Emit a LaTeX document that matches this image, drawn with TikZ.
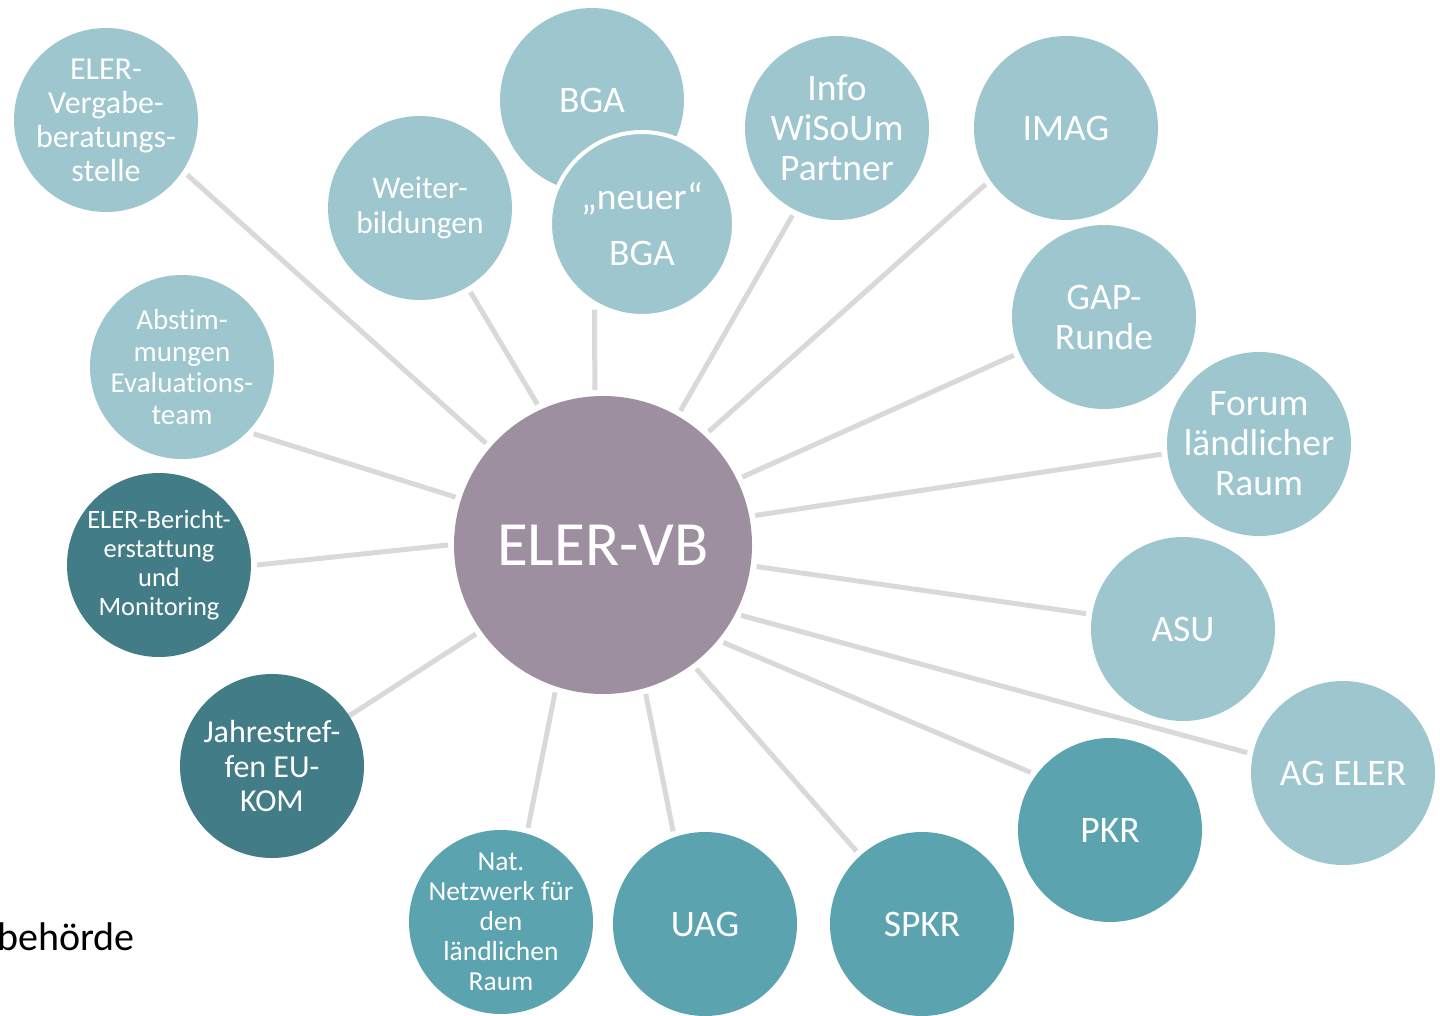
\documentclass[tikz,border=0pt]{standalone}
\usepackage{fontspec}
\setmainfont{Carlito}[Ligatures=NoCommon]
\usetikzlibrary{backgrounds}
\definecolor{lightteal}{HTML}{9DC6CE}
\definecolor{midteal}{HTML}{5BA3AF}
\definecolor{darkteal}{HTML}{427C86}
\definecolor{centermauve}{HTML}{9E8FA0}
\definecolor{linegrey}{HTML}{D9D9D9}
\tikzset{
  bub/.style={circle, minimum size=184pt, inner sep=-30pt, outer sep=6pt, text=white, align=center},
  lightbub/.style={bub, fill=lightteal},
  midbub/.style={bub, fill=midteal},
  darkbub/.style={bub, fill=darkteal},
  spoke/.style={draw=linegrey, line width=5pt},
  fbig/.style={font=\fontsize{37.5}{40}\selectfont}
}
\begin{document}
\begin{tikzpicture}[x=1pt,y=-1pt]
\useasboundingbox (0,0) rectangle (1440,1016);

\node[circle, minimum size=298pt, inner sep=0pt, outer sep=6pt, fill=centermauve, text=white,
      font=\fontsize{63}{70}\selectfont] (c) at (603,545) {ELER-VB};

\node[lightbub, font=\fontsize{32}{34}\selectfont] (verg) at (106,120) {ELER-\\Vergabe-\\beratungs-\\stelle};
\node[lightbub, fbig] (bga) at (592,100) {BGA};
\node[lightbub, fbig, draw=white, line width=4pt] (nbga) at (642,224) {„neuer“\\[16pt]BGA};
\node[lightbub, font=\fontsize{31.5}{35}\selectfont] (weit) at (420,208) {Weiter-\\bildungen};
\node[lightbub, fbig] (info) at (837,128) {Info\\WiSoUm\\Partner};
\node[lightbub, fbig] (imag) at (1066,128) {IMAG};
\node[lightbub, fbig] (gap) at (1104,317) {GAP-\\Runde};
\node[lightbub, fbig] (forum) at (1259,444) {Forum\\ländlicher\\Raum};
\node[lightbub, fbig] (asu) at (1183,629) {ASU};
\node[lightbub, fbig] (ageler) at (1343,773) {AG ELER};
\node[midbub, fbig] (pkr) at (1110,830) {PKR};
\node[midbub, fbig] (spkr) at (922,924) {SPKR};
\node[midbub, fbig] (uag) at (705,924) {UAG};
\node[midbub, font=\fontsize{27.5}{30}\selectfont] (nat) at (501,922) {Nat.\\Netzwerk für\\den\\ländlichen\\Raum};
\node[darkbub, font=\fontsize{32}{34.5}\selectfont] (jahr) at (272,766) {Jahrestref-\\fen EU-\\KOM};
\node[darkbub, font=\fontsize{26.5}{29}\selectfont] (ber) at (159,565) {ELER-Bericht-\\erstattung\\und\\Monitoring};
\node[lightbub, font=\fontsize{29}{31.5}\selectfont] (abst) at (182,367) {Abstim-\\mungen\\Evaluations-\\team};

\node[anchor=base east, font=\fontsize{40}{44}\selectfont, text=black, inner sep=0pt] (beh) at (135,950) {behörde};

\begin{scope}[on background layer]
\draw[spoke] (c.139) -- (verg.-34);
\draw[spoke] (c.115) -- (weit.-59);
\draw[spoke] (c.93) -- (nbga.-119);
\draw[spoke] (c.60) -- (info.-117);
\draw[spoke] (c.47) -- (imag.-145);
\draw[spoke] (c.26) -- (gap.-157);
\draw[spoke] (c.11.5) -- (forum.-174);
\draw[spoke] (c.-8) -- (asu.171);
\draw[spoke] (c.-27.5) -- (ageler.168);
\draw[spoke] (c.-39) -- (pkr.144);
\draw[spoke] (c.-53.5) -- (spkr.132.5);
\draw[spoke] (c.-74) -- (uag.109);
\draw[spoke] (c.-108) -- (nat.74.5);
\draw[spoke, shorten >=-11pt] (c.-145) -- (jahr.33);
\draw[spoke] (c.180) -- (ber.0);
\draw[spoke] (c.162) -- (abst.-43);
\end{scope}
\end{tikzpicture}
\end{document}
